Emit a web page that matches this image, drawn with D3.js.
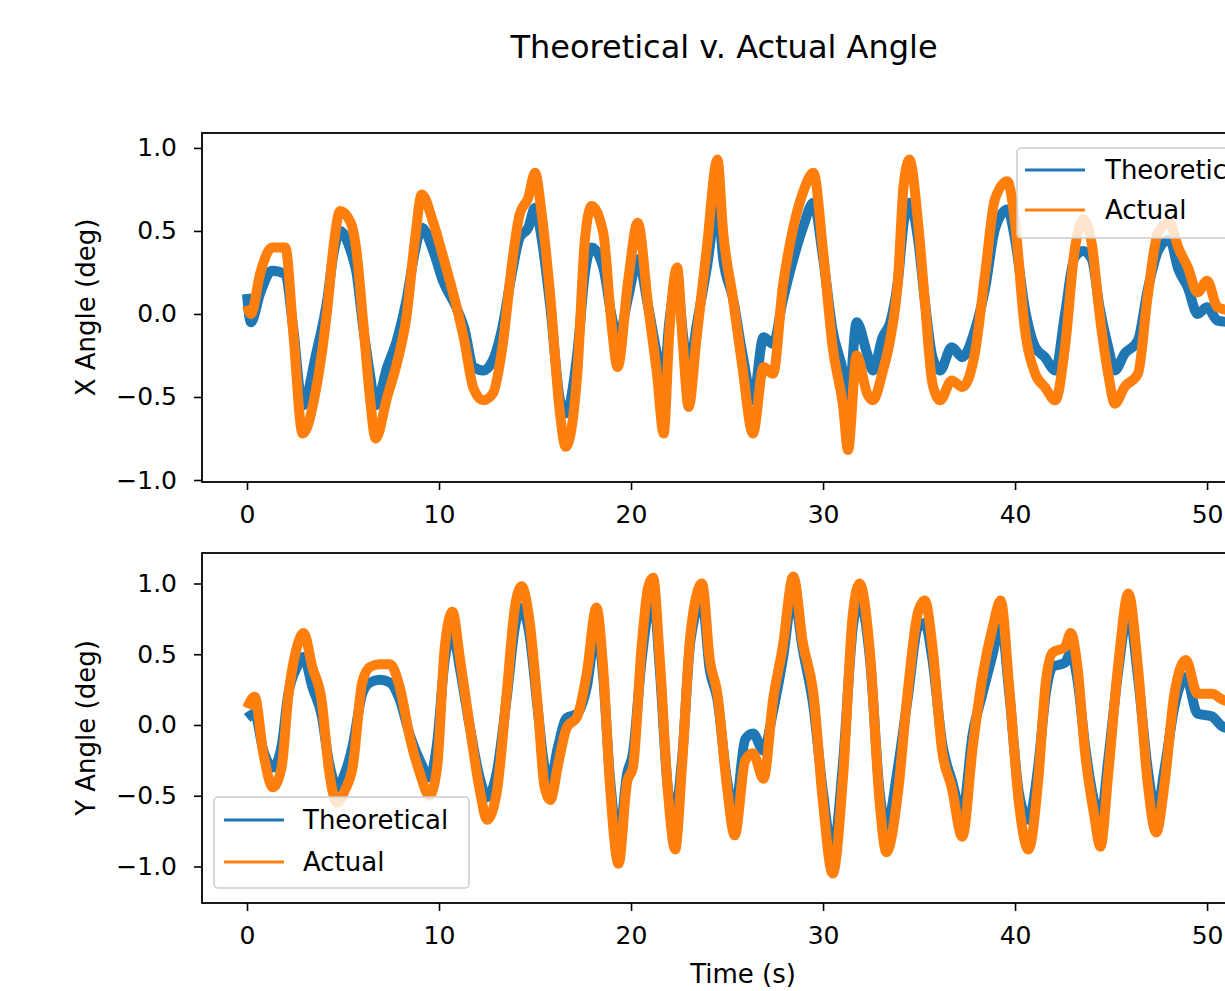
<!DOCTYPE html>
<html><head><meta charset="utf-8">
<script src="https://cdn.jsdelivr.net/npm/d3@7/dist/d3.min.js"></script>
<style>body{margin:0;background:#fff}svg{display:block}text{font-family:"DejaVu Sans",sans-serif;fill:#000}</style>
</head><body>
<script>
// ---------- data ----------
const timeX = [0.0,0.2,0.7,1.3,2.0,2.4,2.9,3.6,4.2,4.5,4.85,5.4,5.7,6.05,6.4,6.7,7.3,7.8,8.3,8.75,9.1,9.7,10.2,10.9,11.3,11.8,12.3,12.8,13.3,13.8,14.2,14.65,15.0,15.35,15.8,16.3,16.6,17.2,17.6,17.95,18.55,19.0,19.3,19.85,20.35,20.9,21.35,21.7,22.0,22.4,22.7,23.0,23.4,23.95,24.5,24.8,25.3,25.8,26.35,26.9,27.4,27.9,28.45,28.95,29.5,30.0,30.5,31.05,31.3,31.75,32.3,32.6,33.1,33.5,33.9,34.2,34.5,34.95,35.3,35.7,36.1,36.7,37.25,37.9,38.45,38.95,39.6,40.0,40.5,41.05,41.55,42.1,42.6,43.1,43.55,44.0,44.4,44.85,45.2,45.7,46.4,46.9,47.45,48.05,48.5,49.0,49.5,50.0,50.55,51.3];
const theoX = [0.12,-0.05,0.13,0.26,0.24,-0.08,-0.55,-0.24,0.1,0.36,0.5,0.38,0.25,-0.08,-0.36,-0.55,-0.32,-0.16,0.08,0.38,0.52,0.38,0.2,0.04,-0.08,-0.32,-0.34,-0.28,-0.08,0.25,0.46,0.52,0.64,0.45,0.04,-0.52,-0.6,-0.24,0.25,0.4,0.28,-0.02,-0.16,0.1,0.33,0.04,-0.24,-0.4,-0.04,0.2,-0.12,-0.36,-0.08,0.28,0.67,0.33,0.1,-0.24,-0.52,-0.14,-0.18,0.08,0.33,0.52,0.67,0.34,-0.1,-0.36,-0.56,-0.05,-0.24,-0.34,-0.14,-0.05,0.2,0.55,0.67,0.45,0.08,-0.26,-0.34,-0.2,-0.26,-0.1,0.16,0.51,0.63,0.45,0.04,-0.2,-0.26,-0.34,0.0,0.34,0.38,0.33,0.04,-0.2,-0.34,-0.24,-0.16,0.14,0.38,0.45,0.27,0.16,0.0,0.04,-0.04,-0.05];
const actX  = [0.05,0.0,0.25,0.4,0.4,-0.1,-0.72,-0.45,0.05,0.4,0.62,0.55,0.38,-0.05,-0.5,-0.75,-0.5,-0.3,-0.02,0.45,0.72,0.55,0.35,0.05,-0.15,-0.45,-0.52,-0.48,-0.2,0.3,0.6,0.7,0.85,0.6,0.1,-0.6,-0.8,-0.36,0.45,0.65,0.49,-0.08,-0.32,0.2,0.55,0.04,-0.36,-0.72,-0.1,0.28,-0.18,-0.56,-0.16,0.4,0.93,0.49,0.1,-0.32,-0.72,-0.32,-0.36,0.16,0.52,0.73,0.85,0.38,-0.2,-0.56,-0.82,-0.25,-0.48,-0.52,-0.35,-0.15,0.2,0.78,0.93,0.55,0.08,-0.42,-0.52,-0.4,-0.44,-0.24,0.25,0.69,0.8,0.55,-0.08,-0.36,-0.44,-0.52,-0.2,0.38,0.57,0.42,0.0,-0.36,-0.54,-0.44,-0.36,0.1,0.49,0.55,0.4,0.28,0.13,0.2,0.04,0.02];

const timeY = [0.0,0.4,0.85,1.35,1.8,2.15,2.6,2.95,3.4,3.9,4.25,4.7,5.1,5.5,6.0,6.4,6.9,7.45,7.95,8.5,9.0,9.5,9.9,10.3,10.7,11.1,11.6,12.15,12.5,13.0,13.55,13.95,14.3,14.7,15.15,15.5,15.8,16.2,16.65,17.2,17.7,18.2,18.55,18.9,19.35,19.8,20.1,20.55,20.9,21.15,21.5,21.95,22.3,22.65,23.1,23.7,24.1,24.5,25.0,25.4,25.95,26.35,26.9,27.4,27.9,28.45,28.95,29.5,30.0,30.5,31.05,31.55,31.9,32.45,32.95,33.3,33.9,34.4,34.95,35.3,35.7,36.2,36.7,37.25,37.8,38.3,38.85,39.25,39.7,40.2,40.7,41.2,41.6,41.95,42.6,42.9,43.25,43.65,44.1,44.45,44.85,45.4,45.9,46.4,46.9,47.35,47.8,48.3,48.9,49.5,50.25,50.8,51.3];
const theoY = [0.05,0.08,-0.18,-0.3,-0.15,0.22,0.41,0.48,0.27,0.06,-0.25,-0.44,-0.34,-0.15,0.22,0.3,0.32,0.3,0.18,-0.08,-0.25,-0.37,-0.13,0.46,0.65,0.39,-0.01,-0.39,-0.51,-0.34,0.22,0.69,0.83,0.65,0.1,-0.3,-0.39,-0.15,0.05,0.08,0.27,0.69,0.34,-0.37,-0.81,-0.34,-0.2,0.46,0.81,0.93,0.39,-0.48,-0.62,-0.25,0.6,0.88,0.39,0.18,-0.39,-0.62,-0.1,-0.06,-0.18,0.1,0.46,0.93,0.53,0.13,-0.48,-0.9,-0.25,0.69,0.88,0.46,-0.48,-0.72,-0.3,0.18,0.69,0.72,0.46,-0.13,-0.39,-0.62,-0.06,0.22,0.51,0.74,0.22,-0.48,-0.67,-0.3,0.22,0.41,0.44,0.51,0.32,-0.15,-0.53,-0.67,-0.25,0.41,0.81,0.34,-0.3,-0.62,-0.3,0.13,0.34,0.08,0.06,-0.01,-0.03];
const actY  = [0.12,0.2,-0.2,-0.44,-0.3,0.2,0.55,0.65,0.41,0.16,-0.3,-0.55,-0.46,-0.3,0.3,0.41,0.43,0.43,0.27,-0.1,-0.34,-0.5,-0.3,0.55,0.8,0.46,-0.01,-0.48,-0.67,-0.48,0.26,0.83,0.98,0.75,0.12,-0.44,-0.53,-0.28,-0.02,0.06,0.37,0.83,0.4,-0.42,-0.98,-0.4,-0.3,0.55,0.98,1.04,0.46,-0.52,-0.88,-0.3,0.65,1.0,0.46,0.22,-0.44,-0.78,-0.25,-0.2,-0.38,0.18,0.55,1.05,0.58,0.22,-0.55,-1.05,-0.35,0.78,1.0,0.5,-0.55,-0.9,-0.48,0.22,0.8,0.88,0.55,-0.18,-0.44,-0.79,-0.15,0.34,0.7,0.88,0.26,-0.55,-0.88,-0.4,0.3,0.51,0.55,0.65,0.41,-0.2,-0.62,-0.86,-0.35,0.46,0.93,0.41,-0.4,-0.76,-0.4,0.22,0.46,0.22,0.22,0.18,0.16];

const xTicks = [0,10,20,30,40,50];
const yTicks = [-1.0,-0.5,0.0,0.5,1.0];
const seriesNames = ["Theoretical","Actual"];
const colors = ["#1f77b4","#ff7f0e"];

// ---------- layout ----------
const W = 1225, H = 991;
const svg = d3.select("body").append("svg").attr("width", W).attr("height", H);
const FONT = 26;

svg.append("text").attr("x", 724).attr("y", 58).attr("text-anchor","middle")
  .style("font-size","32px").text("Theoretical v. Actual Angle");

const x = d3.scaleLinear().domain([-2.344, 54.84]).range([202, 1300]);

const panels = [
  {top:133, bottom:482, y: d3.scaleLinear().domain([-1.012,1.090]).range([482,133]),
   t: timeX, s:[theoX, actX], label:"X Angle (deg)", legend:{x:1017,y:148,w:300,h:90,r1:170,r2:210,lx:1025,tx:1105}},
  {top:553, bottom:903, y: d3.scaleLinear().domain([-1.258,1.2155]).range([903,553]),
   t: timeY, s:[theoY, actY], label:"Y Angle (deg)", legend:{x:214,y:797,w:255,h:91,r1:820,r2:862,lx:224,tx:303}}
];

panels.forEach((p,i) => {
  const g = svg.append("g");
  const cid = "clip"+i;
  svg.append("clipPath").attr("id",cid).append("rect")
    .attr("x",202).attr("y",p.top).attr("width",1300-202).attr("height",p.bottom-p.top);
  const line = d3.line().x((d,k)=>x(p.t[k])).y(d=>p.y(d)).curve(d3.curveMonotoneX);
  p.s.forEach((vals,si) => {
    g.append("path").attr("d", line(vals)).attr("fill","none")
      .attr("stroke", colors[si]).attr("stroke-width", 10)
      .attr("stroke-linejoin","round").attr("clip-path","url(#"+cid+")");
  });
  // frame
  g.append("rect").attr("x",202).attr("y",p.top).attr("width",1300-202).attr("height",p.bottom-p.top)
    .attr("fill","none").attr("stroke","#000").attr("stroke-width",1.8);
  // axes
  const xa = g.append("g").attr("transform","translate(0,"+p.bottom+")")
    .call(d3.axisBottom(x).tickValues(xTicks).tickFormat(d3.format("d")).tickSize(8).tickPadding(15));
  const ya = g.append("g").attr("transform","translate(202,0)")
    .call(d3.axisLeft(p.y).tickValues(yTicks).tickFormat(d=>d3.format(".1f")(d).replace("-","\u2212")).tickSize(8).tickPadding(17));
  [xa,ya].forEach(a=>{
    a.select(".domain").remove();
    a.selectAll(".tick line").attr("stroke","#000").attr("stroke-width",1.6);
    a.selectAll(".tick text").style("font-size",FONT-1+"px").style("font-family","DejaVu Sans").attr("fill","#000");
  });
  g.append("text").attr("transform","translate(95,"+((p.top+p.bottom)/2)+") rotate(-90)")
    .attr("text-anchor","middle").style("font-size",FONT+"px").text(p.label);
  // legend
  const L = p.legend;
  const lg = g.append("g");
  lg.append("rect").attr("x",L.x).attr("y",L.y).attr("width",L.w).attr("height",L.h)
    .attr("rx",4).attr("fill","#fff").attr("fill-opacity",0.8).attr("stroke","#cccccc").attr("stroke-width",1.5);
  [L.r1,L.r2].forEach((ry,k)=>{
    lg.append("line").attr("x1",L.lx).attr("x2",L.lx+60).attr("y1",ry).attr("y2",ry)
      .attr("stroke",colors[k]).attr("stroke-width",3);
    lg.append("text").attr("x",L.tx).attr("y",ry+9).style("font-size",FONT+"px").text(seriesNames[k]);
  });
});

svg.append("text").attr("x",743).attr("y",983).attr("text-anchor","middle")
  .style("font-size",FONT+"px").text("Time (s)");
</script>
</body></html>
